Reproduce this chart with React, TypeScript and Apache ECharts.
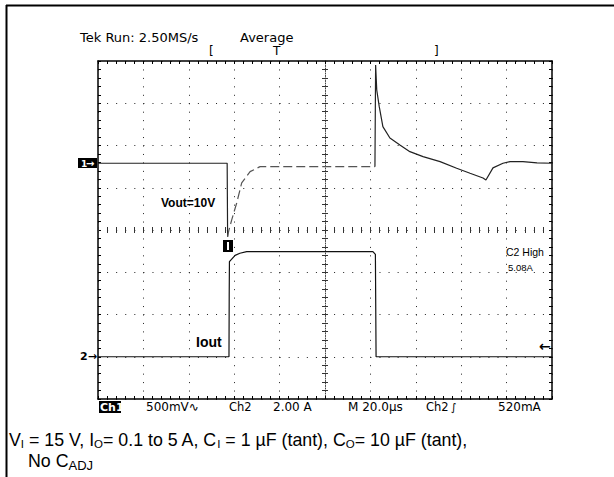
import React, { useEffect, useRef } from "react";
import * as echarts from "echarts";

// time axis (µs), 20 µs / div, 10 divisions
const timeMin = 0;
const timeMax = 200;
const timeStep = 20;

// Ch1 (Vout, AC coupled, deviation from 10 V in mV, 500 mV/div)
const ch1Time = [0, 56.9, 57.1, 57.6, 58.9, 61.1, 63.3, 67.0, 71.4, 122.0, 122.3, 122.8, 123.9, 125.5, 128.6, 133.0, 137.4, 143.2, 150.7, 158.0, 163.9, 169.6, 170.9, 174.0, 178.4, 181.5, 187.2, 193.4, 200];
const ch1mV = [0, 0, -869, -800, -671, -470, -233, -99, -40, -40, 1163, 867, 670, 433, 299, 217, 137, 78, 19, -59, -118, -174, -198, -55, 0, 19, 19, 4, 0];

// Ch2 (Iout in A, 2 A/div)
const ch2Time = [0, 57.7, 57.8, 57.9, 60.4, 62.5, 65.5, 121.1, 122.2, 122.5, 200];
const ch2Amp = [0.1, 0.1, 3.0, 4.6, 4.9, 5.0, 5.08, 5.08, 4.95, 0.1, 0.1];

// vertical scale in divisions
const divMin = -4;
const divMax = 4;

const headerTexts = ["Tek Run: 2.50MS/s", "Average"];
const statusTexts = ["Ch1", "500mV\u223F", "Ch2", "2.00 A", "M 20.0\u00B5s", "Ch2", "\u222B", "520mA"];

export default function App() {
  const ref = useRef<HTMLDivElement>(null);
  useEffect(() => {
    if (!ref.current) return;
    const chart = echarts.init(ref.current, null, { renderer: "svg" });
    const dotColor = "#222";
    const scopeFont = "DejaVu Sans";

    const baseX = (extra: any) => ({
      type: "value",
      min: timeMin,
      max: timeMax,
      interval: timeStep,
      axisLabel: { show: false },
      splitLine: { show: false },
      ...extra,
    });
    const baseY = (extra: any) => ({
      type: "value",
      min: divMin,
      max: divMax,
      interval: 1,
      axisLabel: { show: false },
      splitLine: { show: false },
      ...extra,
    });
    const tick = (inside: boolean, len: number, color = "#000") => ({
      axisTick: { show: true, inside, length: len, lineStyle: { color, width: 1 } },
      minorTick: { show: true, splitNumber: 5, length: len, lineStyle: { color, width: 1 } },
    });

    const xAxis = [
      baseX({
        position: "bottom",
        axisLine: { show: true, onZero: false, lineStyle: { color: "#000", width: 1.5 } },
        ...tick(true, 3),
        splitLine: { show: true, lineStyle: { color: dotColor, width: 1, type: [1, 7.45] } },
      }),
      baseX({
        position: "top",
        axisLine: { show: true, onZero: false, lineStyle: { color: "#000", width: 1.5 } },
        ...tick(true, 3),
      }),
      baseX({
        position: "bottom",
        offset: -169,
        axisLine: { show: false, onZero: false },
        ...tick(true, 3, "#333"),
      }),
      baseX({
        position: "bottom",
        offset: -169,
        axisLine: { show: false, onZero: false },
        ...tick(false, 3, "#333"),
      }),
    ];

    const yAxis = [
      baseY({
        position: "left",
        axisLine: { show: true, onZero: false, lineStyle: { color: "#000", width: 1.5 } },
        ...tick(true, 3),
        splitLine: { show: true, lineStyle: { color: dotColor, width: 1, type: [1, 8.08] } },
      }),
      baseY({
        position: "right",
        axisLine: { show: true, onZero: false, lineStyle: { color: "#000", width: 1.5 } },
        ...tick(true, 3),
      }),
      baseY({
        position: "left",
        offset: -227,
        axisLine: { show: true, onZero: false, lineStyle: { color: "#444", width: 1, type: [1, 1.5] } },
        ...tick(true, 3, "#333"),
      }),
      baseY({
        position: "left",
        offset: -227,
        axisLine: { show: false, onZero: false },
        ...tick(false, 3, "#333"),
      }),
      { type: "value", show: false, min: -2790, max: 1210, splitLine: { show: false } },
      { type: "value", show: false, min: -1.9, max: 14.1, splitLine: { show: false } },
    ];

    const txt = (x: number, y: number, text: string, size: number, extra: any = {}) => ({
      type: "text",
      x,
      y,
      z: 20,
      style: {
        text,
        fontSize: size,
        fontFamily: scopeFont,
        fill: "#000",
        textVerticalAlign: "middle",
        verticalAlign: "middle",
        ...extra,
      },
    });

    const graphic: any[] = [
      // outer frame
      { type: "line", z: 20, shape: { x1: 6, y1: 5.5, x2: 614, y2: 5.5 }, style: { stroke: "#000", lineWidth: 2 } },
      { type: "line", z: 20, shape: { x1: 6.5, y1: 5, x2: 6.5, y2: 477 }, style: { stroke: "#000", lineWidth: 2 } },
      // header
      txt(80, 37, headerTexts[0], 13),
      txt(240, 37, headerTexts[1], 13),
      txt(209, 51, "[", 12),
      txt(273, 51, "T", 12),
      txt(434, 51, "]", 12),
      // Ch1 marker
      { type: "rect", z: 20, shape: { x: 78, y: 158, width: 19, height: 10 }, style: { fill: "#000" } },
      txt(81, 163.5, "1", 9, { fill: "#fff", fontWeight: "bold" }),
      txt(86, 163, "\u2192", 10, { fill: "#fff", fontWeight: "bold" }),
      // Ch2 marker
      txt(80, 356.5, "2\u2192", 11, { fontWeight: "bold" }),
      // small marker at step
      { type: "rect", z: 20, shape: { x: 223, y: 240, width: 10, height: 12 }, style: { fill: "#000" } },
      { type: "rect", z: 21, shape: { x: 227, y: 242, width: 2, height: 8 }, style: { fill: "#fff" } },
      // trigger level arrow
      txt(539, 346, "\u2190", 14, { fontWeight: "bold" }),
      // labels
      txt(161, 203, "Vout=10V", 12, { fontFamily: "Liberation Sans", fontWeight: "bold" }),
      txt(196, 342, "Iout", 14, { fontFamily: "Liberation Sans", fontWeight: "bold" }),
      txt(506, 252, "C2 High", 10.5, { fontFamily: "Liberation Sans" }),
      txt(508, 267, "5.08A", 9.5, { fontFamily: "Liberation Sans" }),
      // status line
      { type: "rect", z: 20, shape: { x: 99, y: 401, width: 22, height: 12 }, style: { fill: "#000" } },
      txt(100, 407, statusTexts[0], 11, { fill: "#fff", fontWeight: "bold" }),
      txt(146, 407, statusTexts[1], 12),
      txt(229, 407, statusTexts[2], 11.5),
      txt(273, 407, statusTexts[3], 12),
      txt(348, 407, statusTexts[4], 12),
      txt(426, 407, statusTexts[5], 11.5),
      txt(451, 407, statusTexts[6], 11),
      txt(498, 407, statusTexts[7], 12),
      // caption
      {
        type: "text",
        x: 9,
        y: 429,
        z: 20,
        style: {
          text: "{n|V}{s|I}{n| = 15 V, I}{s|O}{n|= 0.1 to 5 A, C}{s|I}{n| = 1 \u00B5F (tant), C}{s|O}{n|= 10 \u00B5F (tant),}",
          fill: "#000",
          rich: {
            n: { fontSize: 17.8, fontFamily: "Liberation Sans", lineHeight: 21, fill: "#000" },
            s: { fontSize: 11.5, fontFamily: "Liberation Sans", lineHeight: 12, padding: [9, 0, 0, 0], fill: "#000" },
          },
        },
      },
      {
        type: "text",
        x: 28,
        y: 450,
        z: 20,
        style: {
          text: "{n|No C}{s|ADJ}",
          fill: "#000",
          rich: {
            n: { fontSize: 17.8, fontFamily: "Liberation Sans", lineHeight: 21, fill: "#000" },
            s: { fontSize: 13, fontFamily: "Liberation Sans", lineHeight: 13, padding: [9, 0, 0, 0], fill: "#000" },
          },
        },
      },
    ];

    const ch1Pts = ch1Time.map((t, i) => [t, ch1mV[i]]);
    // segments: before load step (solid), recovery (dashed, averaged trace), load release (solid)
    const recStart = 2;
    const recEnd = 9;

    chart.setOption({
      animation: false,
      backgroundColor: "#fff",
      grid: { left: 98, top: 61, width: 454, height: 338, show: false },
      xAxis,
      yAxis,
      graphic,
      series: [
        {
          type: "line",
          name: "Vout",
          xAxisIndex: 0,
          yAxisIndex: 4,
          data: ch1Pts.slice(0, recStart + 1),
          showSymbol: false,
          lineStyle: { color: "#222", width: 1.2 },
          z: 10,
        },
        {
          type: "line",
          name: "Vout recovery",
          xAxisIndex: 0,
          yAxisIndex: 4,
          data: ch1Pts.slice(recStart, recEnd + 1),
          showSymbol: false,
          lineStyle: { color: "#555", width: 1.2, type: [9, 4] },
          z: 10,
        },
        {
          type: "line",
          name: "Vout release",
          xAxisIndex: 0,
          yAxisIndex: 4,
          data: ch1Pts.slice(recEnd),
          showSymbol: false,
          lineStyle: { color: "#222", width: 1.2 },
          z: 10,
        },
        {
          type: "line",
          name: "Iout",
          xAxisIndex: 0,
          yAxisIndex: 5,
          data: ch2Time.map((t, i) => [t, ch2Amp[i]]),
          showSymbol: false,
          lineStyle: { color: "#111", width: 1.2 },
          z: 10,
        },
      ],
    });
    return () => chart.dispose();
  }, []);
  return <div ref={ref} style={{ position: "absolute", left: 0, top: 0, width: 614, height: 477 }} />;
}
